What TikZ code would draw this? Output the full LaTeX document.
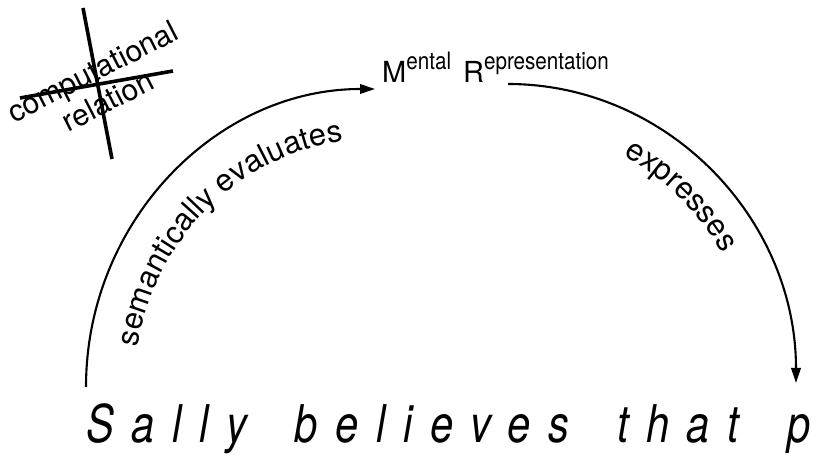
\documentclass[tikz,border=0pt]{standalone}
\usepackage{fontspec}
\setmainfont{TeX Gyre Heros}
\newfontfamily\sallyFont{TeX Gyre Heros}[FakeStretch=0.8,LetterSpace=34.2,WordSpace=1.63]
\newfontfamily\condFont{TeX Gyre Heros}[FakeStretch=0.86]
\usetikzlibrary{positioning,arrows.meta,calc,decorations.text}
\newcommand{\raisedPart}[1]{\raisebox{13pt}{\condFont\fontsize{24}{24}\selectfont #1}}

\begin{document}
\begin{tikzpicture}[
    x=1pt, y=1pt,
    arcStyle/.style={line width=2.1pt, -{Triangle[length=15pt, width=9.5pt]}},
    strikeStyle/.style={line width=3.6pt},
    sallyText/.style={font=\sallyFont\itshape\fontsize{52}{52}\selectfont, inner sep=0pt, anchor=base west},
    mentalText/.style={font=\fontsize{29}{29}\selectfont, inner sep=0pt, anchor=base west},
    strikeText/.style={font=\fontsize{30}{33}\selectfont, inner sep=0pt, align=center, rotate=27},
    arcLabel/.style={decorate, decoration={text along path, text align=center, text={|\fontsize{31}{31}\selectfont|#1}}}
]
    \useasboundingbox (0,0) rectangle (821,457);

    \node[sallyText] (belief) at (86,14) {Sally believes that p};
    \node[mentalText] (mental) at (382,374) {M\raisedPart{ental}\hspace{12pt}R\raisedPart{epresentation}};
    \node[strikeText] (compRel) at (100,371) {computational\\relation};

    % arc end points and centres
    \coordinate (semStart) at (86,70);
    \coordinate (semEnd) at (375,368);
    \coordinate (exprStart) at (508,373);
    \coordinate (exprEnd) at (796,74);
    \coordinate (leftHub) at (375,70);
    \coordinate (rightHub) at (508,74);

    \draw[arcStyle] (semStart) .. controls +(0,164.5) and +(-159.5,0) .. (semEnd);
    \draw[arcStyle] (exprStart) .. controls +(159,0) and +(0,165) .. (exprEnd);

    \path[arcLabel={semantically evaluates}] ($(leftHub)+(178:240 and 248)$) arc[start angle=178, end angle=90, x radius=240, y radius=248];
    \path[arcLabel={expresses}] ($(rightHub)+(78:248 and 257)$) arc[start angle=78, end angle=15, x radius=248, y radius=257];

    % crossing out
    \coordinate (crossTop) at (83,449);
    \coordinate (crossBottom) at (112,298);
    \coordinate (crossLeft) at (20,359);
    \coordinate (crossRight) at (173,386);
    \draw[strikeStyle] (crossTop) -- (crossBottom);
    \draw[strikeStyle] (crossLeft) -- (crossRight);
\end{tikzpicture}
\end{document}
